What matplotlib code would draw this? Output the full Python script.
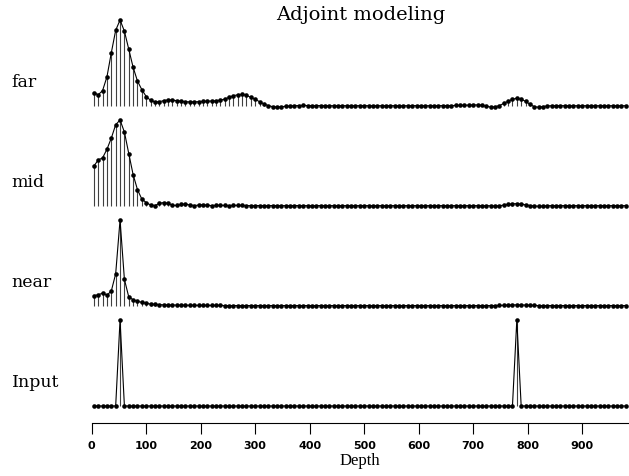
import numpy as np
import matplotlib
matplotlib.use('Agg')
import matplotlib.pyplot as plt

# sample grid: 123 samples, 8 m apart, centred in their bins
dz = 8.0
nz = 123
depth = (np.arange(nz) + 0.5) * dz

# traces, normalised to their own peak
far = [0.155, 0.13, 0.18, 0.34, 0.62, 0.88, 1.0, 0.87, 0.66, 0.45,
	0.29, 0.19, 0.11, 0.066, 0.047, 0.05, 0.062, 0.07, 0.068, 0.062,
	0.055, 0.05, 0.047, 0.048, 0.05, 0.053, 0.055, 0.058, 0.06, 0.068,
	0.08, 0.10, 0.12, 0.13, 0.135, 0.125, 0.10, 0.078, 0.05, 0.023,
	0.005, -0.008, -0.012, -0.008, -0.004, 0.0, 0.003, 0.005, 0.006, 0.005,
	0.004, 0.004, 0.005, 0.004, 0.003, 0.003, 0.004, 0.004, 0.003, 0.003,
	0.003, 0.004, 0.004, 0.003, 0.003, 0.003, 0.003, 0.004, 0.004, 0.003,
	0.003, 0.003, 0.003, 0.004, 0.004, 0.003, 0.003, 0.003, 0.003, 0.004,
	0.004, 0.005, 0.005, 0.006, 0.007, 0.008, 0.01, 0.012, 0.012, 0.01,
	-0.003, -0.012, -0.01, 0.005, 0.03, 0.055, 0.078, 0.09, 0.078, 0.055,
	0.02, -0.008, -0.015, -0.006, 0.0, 0.003, 0.004, 0.004, 0.003, 0.003,
	0.003, 0.003, 0.003, 0.003, 0.003, 0.003, 0.003, 0.003, 0.003, 0.003,
	0.003, 0.003, 0.003]

mid = [0.465, 0.535, 0.56, 0.66, 0.79, 0.945, 1.0, 0.86, 0.61, 0.365,
	0.19, 0.08, 0.04, 0.012, 0.005, 0.03, 0.04, 0.03, 0.008, 0.006,
	0.018, 0.022, 0.012, 0.005, 0.01, 0.015, 0.008, 0.005, 0.006, 0.008,
	0.006, 0.005, 0.006, 0.007, 0.006, 0.005, 0.004, 0.005, 0.005, 0.004,
	0.004, 0.005, 0.005, 0.004, 0.004, 0.004, 0.005, 0.005, 0.004, 0.004,
	0.004, 0.004, 0.005, 0.004, 0.004, 0.004, 0.004, 0.004, 0.004, 0.004,
	0.004, 0.004, 0.004, 0.004, 0.004, 0.004, 0.004, 0.004, 0.004, 0.004,
	0.004, 0.004, 0.004, 0.004, 0.004, 0.004, 0.004, 0.004, 0.004, 0.004,
	0.004, 0.004, 0.004, 0.004, 0.004, 0.004, 0.004, 0.004, 0.004, 0.004,
	0.004, 0.002, 0.0, 0.003, 0.01, 0.018, 0.025, 0.027, 0.022, 0.014,
	0.005, 0.0, -0.003, 0.0, 0.003, 0.004, 0.004, 0.004, 0.004, 0.004,
	0.004, 0.004, 0.004, 0.004, 0.004, 0.004, 0.004, 0.004, 0.004, 0.004,
	0.004, 0.004, 0.004]

near = [0.12, 0.13, 0.15, 0.125, 0.175, 0.375, 1.0, 0.31, 0.105, 0.073,
	0.054, 0.043, 0.031, 0.023, 0.019, 0.016, 0.013, 0.012, 0.011, 0.01,
	0.009, 0.009, 0.008, 0.008, 0.007, 0.007, 0.007, 0.006, 0.006, 0.006,
	0.005, 0.005, 0.005, 0.005, 0.005, 0.005, 0.005, 0.005, 0.005, 0.005,
	0.005, 0.005, 0.005, 0.005, 0.005, 0.005, 0.005, 0.005, 0.005, 0.005,
	0.005, 0.005, 0.005, 0.005, 0.005, 0.005, 0.005, 0.005, 0.005, 0.005,
	0.005, 0.005, 0.005, 0.005, 0.005, 0.005, 0.005, 0.005, 0.005, 0.005,
	0.005, 0.005, 0.005, 0.005, 0.005, 0.005, 0.005, 0.005, 0.005, 0.005,
	0.005, 0.005, 0.005, 0.005, 0.005, 0.005, 0.005, 0.005, 0.005, 0.005,
	0.005, 0.005, 0.005, 0.006, 0.008, 0.01, 0.012, 0.013, 0.012, 0.01,
	0.008, 0.006, 0.005, 0.005, 0.005, 0.005, 0.005, 0.005, 0.005, 0.005,
	0.005, 0.005, 0.005, 0.005, 0.005, 0.005, 0.005, 0.005, 0.005, 0.005,
	0.005, 0.005, 0.005]

# input is two unit spikes
input_spike_depths = [52, 780]
input_trace = np.where(np.isin(depth, input_spike_depths), 1.0, 0.0)

traces = [input_trace, near, mid, far]
names = ['Input', 'near', 'mid', 'far']

amp = 0.86  # height of a unit peak, in trace spacings

fig = plt.figure(figsize=(6.29, 4.76), dpi=100)
ax = fig.add_axes([91.7/629, 53.5/476, (628-91.7)/629, 406.5/476])

for k in range(len(traces)):
	y = k + amp*np.asarray(traces[k], dtype=float)
	ax.vlines(depth, k, y, colors='0.25', linewidth=0.8)
	ax.plot(depth, y, c='black', linewidth=0.8, marker='o', markersize=3.3, markeredgewidth=0)
	ax.text(-80/0.5448, k + 0.19, names[k], ha='left', va='baseline',
		fontsize=12.5, family='DejaVu Serif')

ax.set_xlim(0, nz*dz)
ax.set_ylim(-0.165, 3.9)
for s in ['top', 'left', 'right']:
	ax.spines[s].set_visible(False)
ax.spines['bottom'].set_linewidth(0.8)
ax.set_yticks([])
ax.set_xticks(range(0, 1000, 100))
ax.tick_params(axis='x', direction='out', length=8, width=0.8, pad=5)
for lab in ax.get_xticklabels():
	lab.set_fontsize(8)
	lab.set_fontweight('bold')
ax.set_xlabel('Depth', fontsize=12, family='Liberation Serif', labelpad=2)

fig.text(0.5728, 1 - 20/476, 'Adjoint modeling', ha='center', va='baseline',
	fontsize=14, family='DejaVu Serif')

fig.savefig('out.png', dpi=100)
